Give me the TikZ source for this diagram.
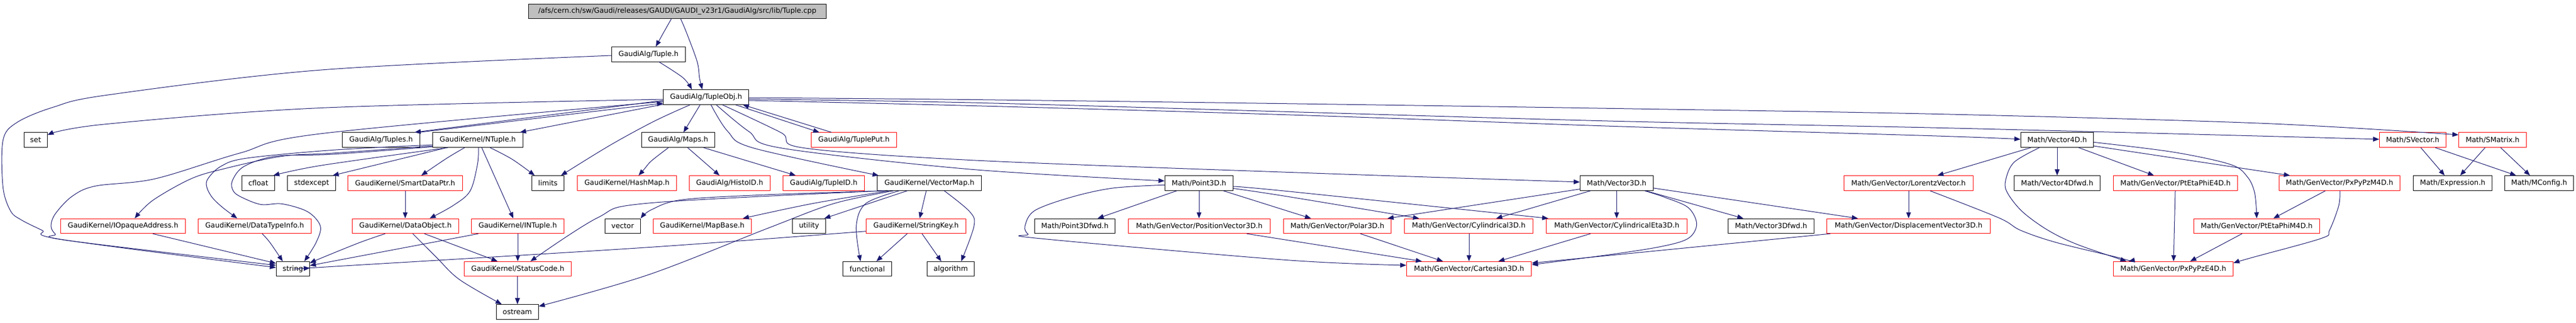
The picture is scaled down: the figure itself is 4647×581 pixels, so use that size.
\documentclass[tikz,border=0pt]{standalone}
\usepackage{fontspec}
\newfontfamily\dvs{DejaVu Sans}
\usetikzlibrary{arrows.meta}
\definecolor{edgeblue}{RGB}{25,25,112}
\definecolor{titlegray}{RGB}{191,191,191}
\tikzset{
  nbox/.style={draw=black, line width=1pt, minimum height=26.6pt, inner sep=0pt, font=\dvs\fontsize{12.8}{15}\selectfont, text=black},
  rbox/.style={nbox, draw=red},
  tbox/.style={nbox, fill=titlegray},
  dep/.style={draw=edgeblue, line width=1pt, -{Triangle[length=11pt,width=8.5pt]}},
  sm/.style={smooth, tension=0.55}
}
\begin{document}
\begin{tikzpicture}[x=1pt, y=-1pt]
\useasboundingbox (0,0) rectangle (4647,581);
% row 0-2
\node[tbox, minimum width=537pt] (title) at (1221.8,20.3) {/afs/cern.ch/sw/Gaudi/releases/GAUDI/GAUDI\_v23r1/GaudiAlg/src/lib/Tuple.cpp};
\node[nbox, minimum width=133.2pt] (tupleh) at (1169.9,97.7) {GaudiAlg/Tuple.h};
\node[nbox, minimum width=154pt] (tupleobj) at (1273.7,175) {GaudiAlg/TupleObj.h};
% row 3
\node[nbox, minimum width=42.1pt] (set) at (64.25,252.2) {set};
\node[nbox, minimum width=139.7pt] (tuples) at (687.35,252.2) {GaudiAlg/Tuples.h};
\node[nbox, minimum width=162.7pt] (ntuple) at (861.85,252.2) {GaudiKernel/NTuple.h};
\node[nbox, minimum width=132pt] (maps) at (1223.3,252.2) {GaudiAlg/Maps.h};
\node[rbox, minimum width=153.8pt] (tupleput) at (1540.4,252.2) {GaudiAlg/TuplePut.h};
\node[nbox, minimum width=131.3pt] (vecfd) at (3710.95,252.2) {Math/Vector4D.h};
\node[rbox, minimum width=119.8pt] (svector) at (4352.4,252.2) {Math/SVector.h};
\node[rbox, minimum width=121.9pt] (smatrix) at (4496.45,252.2) {Math/SMatrix.h};
% row 4
\node[nbox, minimum width=59.3pt] (cfloat) at (465.95,330) {cfloat};
\node[nbox, minimum width=87pt] (stdexcept) at (562.1,330) {stdexcept};
\node[rbox, minimum width=206.6pt] (smartptr) at (730.8,330) {GaudiKernel/SmartDataPtr.h};
\node[nbox, minimum width=58.1pt] (limits) at (988.35,330) {limits};
\node[rbox, minimum width=179pt] (hashmap) at (1131,330) {GaudiKernel/HashMap.h};
\node[rbox, minimum width=145.8pt] (histoid) at (1316.3,330) {GaudiAlg/HistoID.h};
\node[rbox, minimum width=146.6pt] (tupleid) at (1485.9,330) {GaudiAlg/TupleID.h};
\node[nbox, minimum width=188.1pt] (vectormap) at (1676.55,330) {GaudiKernel/VectorMap.h};
\node[nbox, minimum width=123.2pt] (pointtd) at (2162.9,330) {Math/Point3D.h};
\node[nbox, minimum width=131.9pt] (vectd) at (2916.35,330) {Math/Vector3D.h};
\node[rbox, minimum width=232.9pt] (lorentz) at (3442.75,330) {Math/GenVector/LorentzVector.h};
\node[nbox, minimum width=155pt] (vecfdfwd) at (3711,330) {Math/Vector4Dfwd.h};
\node[rbox, minimum width=223.8pt] (ptetaphie) at (3924.5,330) {Math/GenVector/PtEtaPhiE4D.h};
\node[rbox, minimum width=218.3pt] (pxpypzm) at (4220.45,330) {Math/GenVector/PxPyPzM4D.h};
\node[nbox, minimum width=141.9pt] (expression) at (4424.45,330) {Math/Expression.h};
\node[nbox, minimum width=124.4pt] (mconfig) at (4580.5,330) {Math/MConfig.h};
% row 5
\node[rbox, minimum width=225pt] (iopaque) at (222,407.3) {GaudiKernel/IOpaqueAddress.h};
\node[rbox, minimum width=204pt] (dtinfo) at (459.4,407.3) {GaudiKernel/DataTypeInfo.h};
\node[rbox, minimum width=191.7pt] (dataobj) at (731.35,407.3) {GaudiKernel/DataObject.h};
\node[rbox, minimum width=166.8pt] (intuple) at (934,407.3) {GaudiKernel/INTuple.h};
\node[nbox, minimum width=63.9pt] (vector) at (1123.25,407.3) {vector};
\node[rbox, minimum width=176.8pt] (mapbase) at (1266.8,407.3) {GaudiKernel/MapBase.h};
\node[nbox, minimum width=59.3pt] (utility) at (1459.45,407.3) {utility};
\node[rbox, minimum width=179.9pt] (stringkey) at (1652.55,407.3) {GaudiKernel/StringKey.h};
\node[nbox, minimum width=145.4pt] (pointtdfwd) at (1939,407.3) {Math/Point3Dfwd.h};
\node[rbox, minimum width=256.1pt] (posvec) at (2163.45,407.3) {Math/GenVector/PositionVector3D.h};
\node[rbox, minimum width=193.8pt] (polar) at (2412.5,407.3) {Math/GenVector/Polar3D.h};
\node[rbox, minimum width=232pt] (cyl) at (2649.5,407.3) {Math/GenVector/Cylindrical3D.h};
\node[rbox, minimum width=253.9pt] (cyleta) at (2916.55,407.3) {Math/GenVector/CylindricalEta3D.h};
\node[nbox, minimum width=155pt] (vectdfwd) at (3194.9,407.3) {Math/Vector3Dfwd.h};
\node[rbox, minimum width=295.3pt] (dispvec) at (3442.95,407.3) {Math/GenVector/DisplacementVector3D.h};
\node[rbox, minimum width=226.7pt] (ptetaphim) at (4070.95,407.3) {Math/GenVector/PtEtaPhiM4D.h};
% row 6-7
\node[nbox, minimum width=60.1pt] (string) at (528.35,484.6) {string};
\node[rbox, minimum width=192.8pt] (status) at (934,484.6) {GaudiKernel/StatusCode.h};
\node[nbox, minimum width=88pt] (functional) at (1564.5,484.6) {functional};
\node[nbox, minimum width=85.4pt] (algorithm) at (1715.1,484.6) {algorithm};
\node[rbox, minimum width=225.4pt] (cart) at (2650.1,484.6) {Math/GenVector/Cartesian3D.h};
\node[rbox, minimum width=215.8pt] (pxpypze) at (3920.5,484.6) {Math/GenVector/PxPyPzE4D.h};
\node[nbox, minimum width=76pt] (ostream) at (933.3,562) {ostream};

% ---- edges: top part
\draw[dep] plot[sm] coordinates {(1211,0 |- title.south) (1198,57) (1183,0 |- tupleh.north)};
\draw[dep] plot[sm] coordinates {(1228,0 |- title.south) (1238.5,59) (1257.6,111) (1262,141) (1267,0 |- tupleobj.north)};
\draw[dep] plot[sm] coordinates {(1188.7,0 |- tupleh.south) (1232,140) (1248,0 |- tupleobj.north)};
\draw[dep] plot[sm] coordinates {(tupleh.west |- 0,100) (580,126) (195,171) (95.7,193.3) (29.9,221.1) (5.4,253) (5.4,337) (19,380) (38,396) (76,415) (111,431.5) (string.west |- 0,482)};
\draw[dep] plot[sm] coordinates {(tupleobj.west |- 0,183) (580,240.7) (432.5,275.9) (279.4,322.2) (172.2,335.2) (130.1,353.7) (100,385) (92,407) (100,422) (120,433) (string.west |- 0,478)};
\draw[dep] plot[sm] coordinates {(tupleobj.west |- 0,179) (580,194.4) (187.5,224) (set.east |- 0,243)};
\draw[dep] (tupleobj.west |- 0,181) -- (748,0 |- tuples.north);
\draw[dep] (756,0 |- tuples.north) -- (tupleobj.west |- 0,186);
\draw[dep] (tupleobj.west |- 0,188) -- (938,0 |- ntuple.north);
\draw[dep] plot[sm] coordinates {(1245,0 |- tupleobj.south) (1180,218.5) (1100,262) (1012,0 |- limits.north)};
\draw[dep] (1263,0 |- tupleobj.south) -- (1233,0 |- maps.north);
\draw[dep] (1326.7,0 |- tupleobj.south) -- (1478,0 |- tupleput.north);
\draw[dep] (1500,0 |- tupleput.north) -- (1340,0 |- tupleobj.south);
\draw[dep] plot[sm] coordinates {(1282.5,0 |- tupleobj.south) (1313,237) (1359,266.7) (1585,0 |- vectormap.north)};
\draw[dep] plot[sm] coordinates {(1292,0 |- tupleobj.south) (1351,237) (1409,266.7) (1750,305) (pointtd.west |- 0,326)};
\draw[dep] plot[sm] coordinates {(1303,0 |- tupleobj.south) (1409,239) (1451,266.7) (1760,289) (2340,311) (vectd.west |- 0,328)};
\draw[dep] plot[sm] coordinates {(tupleobj.east |- 0,176) (1760,179.6) (2340,187) (2920,195.6) (3500,205.6) (4080,222.2) (smatrix.west |- 0,243)};
\draw[dep] plot[sm] coordinates {(tupleobj.east |- 0,178.5) (1760,185.2) (2340,201.9) (2920,218.5) (3500,230.4) (4080,245.2) (svector.west |- 0,251)};
\draw[dep] plot[sm] coordinates {(tupleobj.east |- 0,181) (1760,190.7) (2340,207.4) (2920,227.8) (3500,245.2) (vecfd.west |- 0,251)};

% ---- NTuple
\draw[dep] plot[sm] coordinates {(ntuple.west |- 0,263) (600,276) (509,281.5) (405.7,303.7) (344.4,322.2) (275.5,361.1) (243,0 |- iopaque.north)};
\draw[dep] plot[sm] coordinates {(ntuple.west |- 0,261) (600,270.4) (444,285.2) (398,300) (375,322.2) (373,337) (382.7,355.6) (401.8,374) (428,0 |- dtinfo.north)};
\draw[dep] plot[sm] coordinates {(ntuple.west |- 0,264.5) (600,278) (497.5,281.5) (440,300) (419,326) (421,344.4) (436.3,355.6) (470.7,368.5) (509,367.4) (555,381.5) (577.9,407.4) (570.2,437) (549,0 |- string.north)};
\draw[dep] plot[sm] coordinates {(808,0 |- ntuple.south) (580,298) (493,0 |- cfloat.north)};
\draw[dep] (806,0 |- ntuple.south) -- (600,0 |- stdexcept.north);
\draw[dep] plot[sm] coordinates {(838.3,0 |- ntuple.south) (805.8,285.2) (760,0 |- smartptr.north)};
\draw[dep] plot[sm] coordinates {(863.2,0 |- ntuple.south) (861.3,296.3) (847.9,344.4) (817.3,370.4) (775,0 |- dataobj.north)};
\draw[dep] (869,0 |- ntuple.south) -- (926,0 |- intuple.north);
\draw[dep] plot[sm] coordinates {(884,0 |- ntuple.south) (924,287) (964.6,0 |- limits.north)};
\draw[dep] (731,0 |- smartptr.south) -- (731,0 |- dataobj.north);
\draw[dep] (765.6,0 |- dataobj.south) -- (897.6,0 |- status.north);
\draw[dep] plot[sm] coordinates {(744.6,0 |- dataobj.south) (786.7,463) (828.8,503.7) (905,0 |- ostream.north)};
\draw[dep] plot[sm] coordinates {(694.8,0 |- dataobj.south) (648.9,437) (580,464.8) (string.east |- 0,474)};
\draw[dep] (863,0 |- intuple.south) -- (string.east |- 0,478.5);
\draw[dep] (934,0 |- intuple.south) -- (934,0 |- status.north);
\draw[dep] (933.5,0 |- status.south) -- (933.5,0 |- ostream.north);
\draw[dep] plot[sm] coordinates {(stringkey.west |- 0,416.7) (1160,446.3) (580,481.5) (string.east |- 0,483)};
\draw[dep] (275.5,0 |- iopaque.south) -- (string.west |- 0,474.5);
\draw[dep] plot[sm] coordinates {(473,0 |- dtinfo.south) (487,437) (510,0 |- string.north)};

% ---- VectorMap / Maps
\draw[dep] plot[sm] coordinates {(1592.5,0 |- vectormap.south) (1170,366) (1077.5,392.6) (957,0 |- status.north)};
\draw[dep] plot[sm] coordinates {(1597,0 |- vectormap.south) (1380,351) (1230,360) (1175,378) (vector.north east)};
\draw[dep] plot[sm] coordinates {(1604,0 |- vectormap.south) (1466,366.7) (1340,0 |- mapbase.north)};
\draw[dep] (1636.5,0 |- vectormap.south) -- (1487,0 |- utility.north);
\draw[dep] plot[sm] coordinates {(1612,0 |- vectormap.south) (1504.4,366.7) (1385.8,411) (1170,495) (ostream.east |- 0,552)};
\draw[dep] plot[sm] coordinates {(1622,0 |- vectormap.south) (1561.8,366.7) (1544.6,407.4) (1552.3,0 |- functional.north)};
\draw[dep] (1670.9,0 |- vectormap.south) -- (1659,0 |- stringkey.north);
\draw[dep] plot[sm] coordinates {(1703.4,0 |- vectormap.south) (1749.4,381.5) (1757,407.4) (1734,0 |- algorithm.north)};
\draw[dep] (1636.5,0 |- stringkey.south) -- (1581,0 |- functional.north);
\draw[dep] (1663.3,0 |- stringkey.south) -- (1698,0 |- algorithm.north);
\draw[dep] plot[sm] coordinates {(1205.9,0 |- maps.south) (1175,290) (1162,305) (1152,0 |- hashmap.north)};
\draw[dep] plot[sm] coordinates {(1240.4,0 |- maps.south) (1271,292.6) (1298,0 |- histoid.north)};
\draw[dep] (1269,0 |- maps.south) -- (1435.5,0 |- tupleid.north);

% ---- 3D math
\draw[dep] (2122.7,0 |- pointtd.south) -- (1980,0 |- pointtdfwd.north);
\draw[dep] (2163,0 |- pointtd.south) -- (2163,0 |- posvec.north);
\draw[dep] (2206.9,0 |- pointtd.south) -- (2365,0 |- polar.north);
\draw[dep] plot[sm] coordinates {(pointtd.east |- 0,339.5) (2320,353.7) (2560,0 |- cyl.north)};
\draw[dep] plot[sm] coordinates {(pointtd.east |- 0,336) (2320,344.4) (2793,0 |- cyleta.north)};
\draw[dep] plot[sm] coordinates {(pointtd.west |- 0,333.3) (2007.9,338.9) (1931.3,355.6) (1866.3,379.6) (1849,407.4) (1854.8,422.2) (1874,429.6) (2320,468.5) (cart.west |- 0,478)};
\draw[dep] (2249,0 |- posvec.south) -- (2565,0 |- cart.north);
\draw[dep] (2454,0 |- polar.south) -- (2603,0 |- cart.north);
\draw[dep] (2650,0 |- cyl.south) -- (2650,0 |- cart.north);
\draw[dep] (2869.2,0 |- cyleta.south) -- (2703,0 |- cart.north);
\draw[dep] (3301.8,0 |- dispvec.south) -- (cart.east |- 0,474);
\draw[dep] plot[sm] coordinates {(2967,0 |- vectd.south) (3003.3,355.6) (3045.4,374) (3060.7,403.7) (3045.4,429.6) (2995.7,444.4) (2900,459.3) (cart.east |- 0,477)};
\draw[dep] (vectd.west |- 0,340.7) -- (2503,0 |- polar.north);
\draw[dep] (2869.2,0 |- vectd.south) -- (2699,0 |- cyl.north);
\draw[dep] (2916.4,0 |- vectd.south) -- (2916.4,0 |- cyleta.north);
\draw[dep] (2969,0 |- vectd.south) -- (3145,0 |- vectdfwd.north);
\draw[dep] (vectd.east |- 0,338.9) -- (3351.6,0 |- dispvec.north);

% ---- 4D math
\draw[dep] (3663.7,0 |- vecfd.south) -- (3495,0 |- lorentz.north);
\draw[dep] (3443,0 |- lorentz.south) -- (3443,0 |- dispvec.north);
\draw[dep] plot[sm] coordinates {(3481.7,0 |- lorentz.south) (3606,392.6) (3644.6,414.8) (3709.6,437) (3824,464.8) (3840,0 |- pxpypze.north)};
\draw[dep] plot[sm] coordinates {(3679,0 |- vecfd.south) (3633,292.6) (3617.8,326) (3621.6,348) (3648.4,381.5) (3694.3,414.8) (3747.9,440.7) (3836,0 |- pxpypze.north)};
\draw[dep] (3711,0 |- vecfd.south) -- (3711,0 |- vecfdfwd.north);
\draw[dep] (3749.8,0 |- vecfd.south) -- (3885.7,0 |- ptetaphie.north);
\draw[dep] plot[sm] coordinates {(vecfd.east |- 0,256.3) (3920,274) (4023.4,296.3) (4054,318.5) (4067.4,348.1) (4071,0 |- ptetaphim.north)};
\draw[dep] (vecfd.east |- 0,263) -- (4131,0 |- pxpypzm.north);
\draw[dep] (3924,0 |- ptetaphie.south) -- (3921,0 |- pxpypze.north);
\draw[dep] (4044.5,0 |- ptetaphim.south) -- (3951,0 |- pxpypze.north);
\draw[dep] (4194.8,0 |- pxpypzm.south) -- (4101,0 |- ptetaphim.north);
\draw[dep] plot[sm] coordinates {(4221,0 |- pxpypzm.south) (4219,370.4) (4202.3,414.8) (4187.3,429.6) (4060,464.8) (pxpypze.east |- 0,474)};
\draw[dep] (4367,0 |- svector.south) -- (4410,0 |- expression.north);
\draw[dep] (4393,0 |- svector.south) -- (4539,0 |- mconfig.north);
\draw[dep] (4483,0 |- smatrix.south) -- (4438,0 |- expression.north);
\draw[dep] (4511,0 |- smatrix.south) -- (4564,0 |- mconfig.north);
\end{tikzpicture}
\end{document}
